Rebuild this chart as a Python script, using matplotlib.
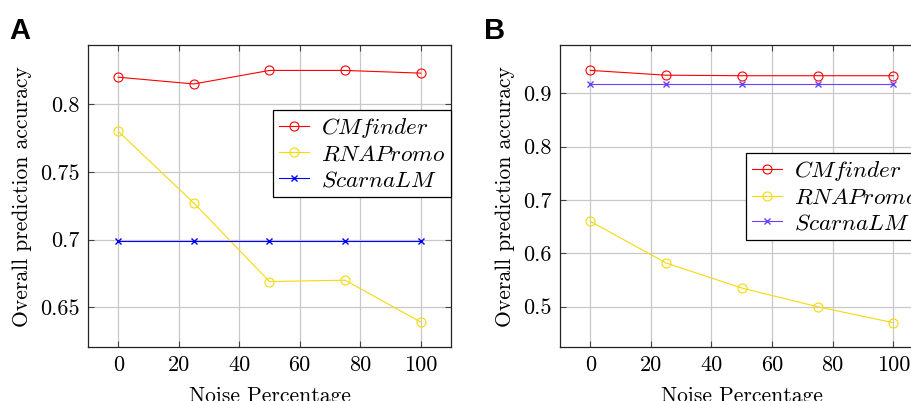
import matplotlib
matplotlib.use('Agg')
import matplotlib.pyplot as plt

plt.rcParams['font.family'] = 'serif'
plt.rcParams['font.serif'] = ['cmr10']
plt.rcParams['mathtext.fontset'] = 'cm'
plt.rcParams['axes.formatter.use_mathtext'] = True

noise = [0, 25, 50, 75, 100]

# panel A
cmfinder_a = [0.820, 0.815, 0.825, 0.825, 0.823]
rnapromo_a = [0.780, 0.727, 0.669, 0.670, 0.639]
scarnalm_a = [0.699, 0.699, 0.699, 0.699, 0.699]

# panel B
cmfinder_b = [0.943, 0.934, 0.933, 0.933, 0.933]
rnapromo_b = [0.660, 0.582, 0.535, 0.500, 0.470]
scarnalm_b = [0.917, 0.917, 0.917, 0.917, 0.917]

yticks_a = [0.65, 0.7, 0.75, 0.8]
yticklabels_a = ['0.65', '0.7', '0.75', '0.8']
yticks_b = [0.5, 0.6, 0.7, 0.8, 0.9]
yticklabels_b = ['0.5', '0.6', '0.7', '0.8', '0.9']
xticks = [0, 20, 40, 60, 80, 100]

fig = plt.figure(figsize=(9.12, 4.01), dpi=100)
ax_a = fig.add_axes([0.0965, 0.1339, 0.398, 0.7539])
ax_b = fig.add_axes([0.614, 0.1339, 0.3987, 0.7539])


def draw(ax, cm, rna, sc, blue, yticks, ylabels, ylim, leg_y):
    ax.plot(noise, cm, color='red', lw=0.8, marker='o', ms=6.5, mfc='none', mew=0.8,
            label='$CMfinder$', zorder=3)
    ax.plot(noise, rna, color='#f5d90a', lw=0.8, marker='o', ms=6.5, mfc='none', mew=0.8,
            label='$RNAPromo$', zorder=3)
    ax.plot(noise, sc, color=blue, lw=0.8, marker='x', ms=4, mew=1.0,
            label='$ScarnaLM$', zorder=3)
    ax.set_xlim(-10, 110)
    ax.set_ylim(*ylim)
    ax.set_xticks(xticks)
    ax.set_xticklabels([str(t) for t in xticks])
    ax.set_yticks(yticks)
    ax.set_yticklabels(ylabels)
    ax.grid(True, color='#c8c8c8', lw=0.9)
    ax.set_axisbelow(True)
    ax.tick_params(direction='in', length=4, width=0.8, color='#444444',
                   top=True, right=True, labelsize=16, pad=6)
    for s in ax.spines.values():
        s.set_linewidth(0.9)
        s.set_color('#222222')
    ax.set_xlabel('Noise Percentage', fontsize=15.5, labelpad=8)
    ax.set_ylabel('Overall prediction accuracy', fontsize=15.5, labelpad=6)
    leg = ax.legend(loc='upper right', bbox_to_anchor=(1.0, leg_y), fontsize=16.8,
                    frameon=True, fancybox=False, framealpha=1, edgecolor='black',
                    borderpad=0.25, labelspacing=0.15, handlelength=1.3,
                    handletextpad=0.5, borderaxespad=0)
    leg.get_frame().set_linewidth(0.9)


draw(ax_a, cmfinder_a, rnapromo_a, scarnalm_a, 'blue', yticks_a, yticklabels_a,
     (0.6204, 0.8438), 0.785)
draw(ax_b, cmfinder_b, rnapromo_b, scarnalm_b, '#6a40ff', yticks_b, yticklabels_b,
     (0.4239, 0.9906), 0.642)

fig.text(0.01, 0.958, 'A', fontsize=21, fontweight='bold', family='Liberation Sans', va='top')
fig.text(0.531, 0.958, 'B', fontsize=21, fontweight='bold', family='Liberation Sans', va='top')

fig.savefig('out.png', dpi=100)
